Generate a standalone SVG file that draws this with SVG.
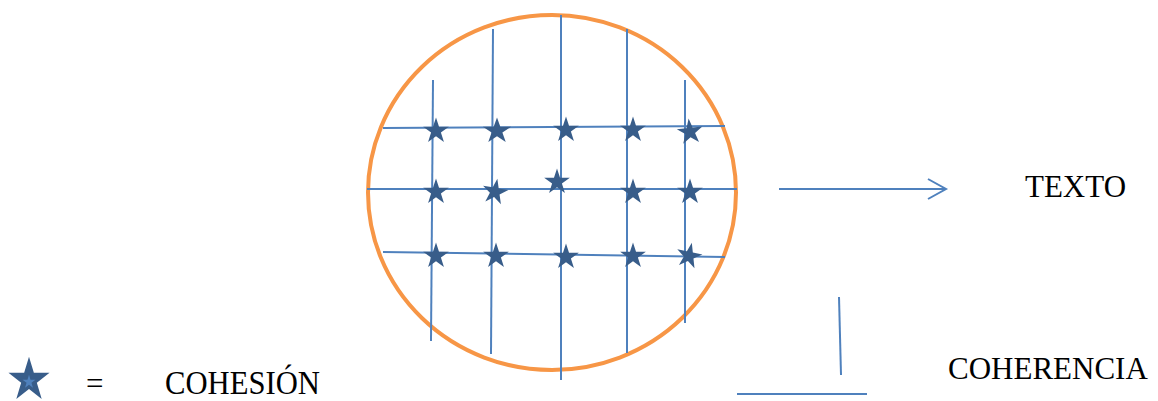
<svg xmlns="http://www.w3.org/2000/svg" xmlns:xlink="http://www.w3.org/1999/xlink" width="1158" height="401" viewBox="0 0 1158 401">
<style>
.grid{stroke:#4F81BD;stroke-width:2;fill:none;stroke-linecap:butt}
.conn{stroke:#4F81BD;stroke-width:2;fill:none}
.lbl{font-family:"Liberation Serif","Times New Roman",serif;font-size:31px;fill:#000}
.star{fill:#385D8A}
</style>
<defs>
<path id="st" d="M0,-13.5 L3.03,-4.17 L12.84,-4.17 L4.9,1.6 L7.93,10.92 L0,5.16 L-7.93,10.92 L-4.9,1.6 L-12.84,-4.17 L-3.03,-4.17Z"/>
</defs>
<rect width="1158" height="401" fill="#fff"/>
<g id="circle-node">
<ellipse cx="552" cy="192.5" rx="184" ry="177.5" fill="none" stroke="#F79646" stroke-width="4"/>
<g class="grid">
<line x1="433" y1="80" x2="431" y2="341"/>
<line x1="493" y1="29" x2="491" y2="354"/>
<line x1="561" y1="15" x2="561" y2="380"/>
<line x1="627" y1="29" x2="627" y2="353"/>
<line x1="685" y1="80" x2="685" y2="323"/>
<line x1="383" y1="128" x2="725" y2="126"/>
<line x1="367" y1="189" x2="737" y2="189"/>
<line x1="383" y1="252" x2="725" y2="257"/>
</g>
<g class="star">
<use xlink:href="#st" transform="translate(436,131)"/>
<use xlink:href="#st" transform="translate(497,131) scale(1.1,1)"/>
<use xlink:href="#st" transform="translate(566,130)"/>
<use xlink:href="#st" transform="translate(633,130)"/>
<use xlink:href="#st" transform="translate(690,132) rotate(-6)"/>
<use xlink:href="#st" transform="translate(436,192)"/>
<use xlink:href="#st" transform="translate(495,192) rotate(10)"/>
<use xlink:href="#st" transform="translate(557,182)"/>
<use xlink:href="#st" transform="translate(633,192)"/>
<use xlink:href="#st" transform="translate(690,192)"/>
<use xlink:href="#st" transform="translate(436,256)"/>
<use xlink:href="#st" transform="translate(496,256)"/>
<use xlink:href="#st" transform="translate(566,257)"/>
<use xlink:href="#st" transform="translate(633,256)"/>
<use xlink:href="#st" transform="translate(689,256) rotate(12)"/>
</g>
</g>
<g id="connectors">
<line class="conn" x1="779" y1="189" x2="945" y2="189"/>
<polyline class="conn" points="928,179 946,189 928,199"/>
<line class="conn" x1="839" y1="297" x2="841" y2="375"/>
<line class="conn" x1="737" y1="394" x2="867" y2="394"/>
</g>
<g id="texto-node">
<text class="lbl" x="1025" y="197">TEXTO</text>
</g>
<g id="coherencia-node">
<text class="lbl" x="948" y="379">COHERENCIA</text>
</g>
<g id="legend">
<use xlink:href="#st" class="star" transform="translate(29,380) scale(1.6,1.73)"/>
<use xlink:href="#st" fill="#4F81BD" transform="translate(29,382) scale(0.5,0.53)"/>
<text class="lbl" x="86" y="394">=</text>
<text class="lbl" x="165" y="394" style="font-size:34px" textLength="155" lengthAdjust="spacingAndGlyphs">COHESIÓN</text>
</g>
</svg>
